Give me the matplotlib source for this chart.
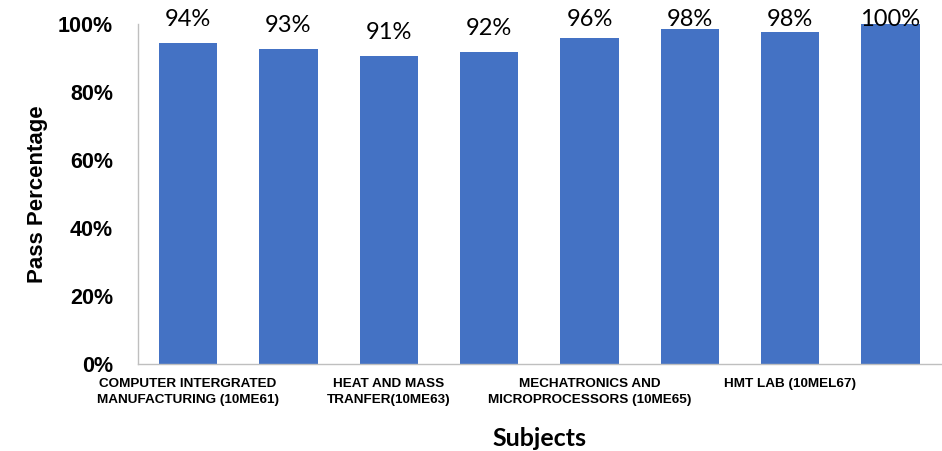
# Pass percentage per subject, bar chart

import numpy as np
import matplotlib.pyplot as plt

# Subject names (only every other one is printed on the axis)
subjects = ["COMPUTER INTERGRATED\nMANUFACTURING (10ME61)", "",
            "HEAT AND MASS\nTRANFER(10ME63)", "",
            "MECHATRONICS AND\nMICROPROCESSORS (10ME65)", "",
            "HMT LAB (10MEL67)", ""]
pass_pct = [0.944, 0.926, 0.906, 0.918, 0.959, 0.985, 0.976, 1.0]
pct_labels = ["94%", "93%", "91%", "92%", "96%", "98%", "98%", "100%"]
y_ticks = [0, 0.2, 0.4, 0.6, 0.8, 1.0]
y_tick_labels = ["0%", "20%", "40%", "60%", "80%", "100%"]

bar_color = "#4472C4"
spine_color = "#BFBFBF"

fig = plt.figure(figsize=(9.42, 4.51), dpi=100)
ax = fig.add_axes([0.1465, 0.193, 0.852, 0.7538])

x = np.arange(len(subjects))
ax.bar(x, pass_pct, width=0.58, color=bar_color, zorder=2)

ax.set_xlim(-0.5, len(subjects) - 0.5)
ax.set_ylim(0, 1.0)

# value labels above bars, held down at the top of the chart
for xi, v, lab in zip(x, pass_pct, pct_labels):
    ax.text(xi, min(v + 0.05, 0.995), lab, ha="center", va="baseline",
            fontsize=17, family=["Lato", "DejaVu Sans"], color="black",
            clip_on=False)

ax.set_yticks(y_ticks)
ax.set_yticklabels(y_tick_labels, fontsize=15.5, fontweight="bold",
                   family=["Liberation Sans", "DejaVu Sans"])
ax.set_xticks(x)
ax.set_xticklabels(subjects, fontsize=9.7, fontweight="bold",
                   family=["Liberation Sans", "DejaVu Sans"],
                   linespacing=1.5)
ax.tick_params(axis="y", length=0, pad=18)
ax.tick_params(axis="x", length=0, pad=10)

for side in ["top", "right"]:
    ax.spines[side].set_visible(False)
for side in ["left", "bottom"]:
    ax.spines[side].set_color(spine_color)
    ax.spines[side].set_linewidth(1.0)

ax.set_ylabel("Pass Percentage", fontsize=16, fontweight="bold",
              family=["Liberation Sans", "DejaVu Sans"], labelpad=7)
ax.set_xlabel("Subjects", fontsize=18, fontweight="bold",
              family=["Lato", "DejaVu Sans"], labelpad=15)

plt.savefig("out.png", dpi=100)
